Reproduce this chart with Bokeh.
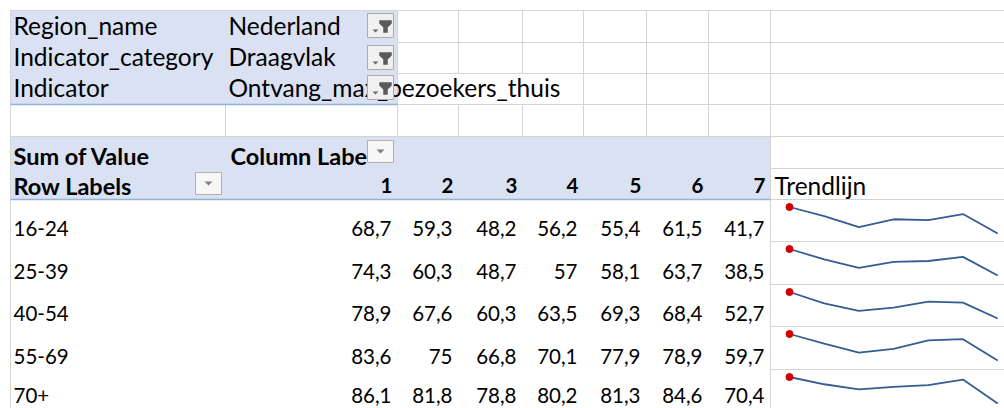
from bokeh.plotting import figure
from bokeh.models import Range1d
from bokeh.embed import file_html
from bokeh.resources import INLINE
from bokeh.core.properties import value

# ---------------- data ----------------
filter_fields = ["Region_name", "Indicator_category", "Indicator"]
filter_values = ["Nederland", "Draagvlak", "Ontvang_max_bezoekers_thuis"]
value_label = "Sum of Value"
column_label = "Column Labe"
row_label = "Row Labels"
columns = ["1", "2", "3", "4", "5", "6", "7"]
trend_label = "Trendlijn"
age_groups = ["16-24", "25-39", "40-54", "55-69", "70+"]
v_16_24 = [68.7, 59.3, 48.2, 56.2, 55.4, 61.5, 41.7]
v_25_39 = [74.3, 60.3, 48.7, 57.0, 58.1, 63.7, 38.5]
v_40_54 = [78.9, 67.6, 60.3, 63.5, 69.3, 68.4, 52.7]
v_55_69 = [83.6, 75.0, 66.8, 70.1, 77.9, 78.9, 59.7]
v_70_plus = [86.1, 81.8, 78.8, 80.2, 81.3, 84.6, 70.4]
series = [v_16_24, v_25_39, v_40_54, v_55_69, v_70_plus]

# ---------------- layout (sheet geometry, pixels) ----------------
W, H = 1004, 408
col_edges = [10, 225, 397, 458, 522, 583, 646, 708, 770, 1004]
row_edges = [10, 42, 73, 104, 136, 168, 199, 241, 284, 326, 369, 411]
TY = -8  # text vertical offset
FONT = "Lato"
FS_LABEL = "24.5px"
FS_BOLD = "23.5px"
FS_NUM = "20.5px"
SHADE = "#D9E1F2"
BLUE_LINE = "#95B3D7"
GRID = "#D4D4D4"


def fmt(v):
    return ("%g" % v).replace(".", ",")


p = figure(width=W, height=H, x_range=Range1d(0, W), y_range=Range1d(H, 0),
           output_backend="svg", toolbar_location=None, min_border=0)
p.axis.visible = False
p.grid.visible = False
p.outline_line_color = None
p.background_fill_color = "white"
p.border_fill_color = "white"

# shaded pivot areas
p.quad(left=[col_edges[0], col_edges[0]], right=[col_edges[2], col_edges[8]],
       top=[row_edges[0], row_edges[4]], bottom=[row_edges[3], row_edges[6]],
       fill_color=SHADE, line_color=None)

# gridlines
gx0, gy0, gx1, gy1 = [], [], [], []
def seg(x0, y0, x1, y1):
    gx0.append(x0); gy0.append(y0); gx1.append(x1); gy1.append(y1)

seg(col_edges[0], row_edges[0], col_edges[9], row_edges[0])
for r in (1, 2):
    seg(col_edges[2], row_edges[r], col_edges[9], row_edges[r])
seg(col_edges[2], row_edges[3], col_edges[9], row_edges[3])
seg(col_edges[0], row_edges[4], col_edges[9], row_edges[4])
for r in range(5, 11):
    seg(col_edges[8], row_edges[r], col_edges[9], row_edges[r])
seg(col_edges[0], row_edges[0], col_edges[0], H)
seg(col_edges[1], row_edges[3], col_edges[1], row_edges[4])
seg(col_edges[2], row_edges[0], col_edges[2], row_edges[4])
for c in (3, 4):
    seg(col_edges[c], row_edges[0], col_edges[c], row_edges[2])
    seg(col_edges[c], row_edges[3], col_edges[c], row_edges[4])
for c in (5, 6, 7):
    seg(col_edges[c], row_edges[0], col_edges[c], row_edges[4])
seg(col_edges[8], row_edges[0], col_edges[8], H)
p.segment(x0=gx0, y0=gy0, x1=gx1, y1=gy1, line_color=GRID, line_width=1)

# blue header borders
p.segment(x0=[col_edges[0], col_edges[0]], y0=[row_edges[3], row_edges[6]],
          x1=[col_edges[2], col_edges[8]], y1=[row_edges[3], row_edges[6]],
          line_color=BLUE_LINE, line_width=1.3)

base = dict(text_font=value(FONT), text_baseline="alphabetic", text_color="#000000")

# report filter block
fb = [row_edges[i + 1] - 9 + TY for i in range(3)]
p.text(x=[col_edges[0] + 3] * 3, y=fb, text=filter_fields, text_align="left",
       text_font_size=value(FS_LABEL), **base)
p.text(x=[col_edges[1] + 3] * 3, y=fb, text=filter_values, text_align="left",
       text_font_size=value(FS_LABEL), **base)

# header rows
p.text(x=[col_edges[0] + 3, col_edges[1] + 5], y=[row_edges[5] - 5 + TY] * 2,
       text=[value_label, column_label], text_align="left", text_font_style="bold",
       text_font_size=value(FS_BOLD), **base)
p.text(x=[col_edges[0] + 3], y=[row_edges[6] - 6 + TY], text=[row_label], text_align="left",
       text_font_style="bold", text_font_size=value(FS_BOLD), **base)
p.text(x=[col_edges[i + 2] - 5 for i in range(7)], y=[row_edges[6] - 6 + TY] * 7, text=columns,
       text_align="right", text_font_style="bold", text_font_size=value(FS_NUM), **base)
p.text(x=[col_edges[8] + 4], y=[row_edges[6] - 6 + TY], text=[trend_label], text_align="left",
       text_font_size=value(FS_LABEL), **base)

# body (last row kept inside the window)
body_base = [min(row_edges[7 + i] - 5 + TY, H - 13) for i in range(5)]
p.text(x=[col_edges[0] + 3] * 5, y=body_base, text=age_groups, text_align="left",
       text_font_size=value(FS_NUM), **base)
bx, by, bt = [], [], []
for i, vals in enumerate(series):
    for j, v in enumerate(vals):
        bx.append(col_edges[j + 2] - 6)
        by.append(body_base[i])
        bt.append(fmt(v))
p.text(x=bx, y=by, text=bt, text_align="right", text_font_size=value(FS_NUM), **base)

# sparklines
sx0, sstep = col_edges[8] + 19, 34.7
for i, vals in enumerate(series):
    top = row_edges[6 + i] + 7.5
    h = 26.5
    vmax, vmin = max(vals), min(vals)
    xs = [sx0 + j * sstep for j in range(len(vals))]
    ys = [top + (vmax - v) / (vmax - vmin) * h for v in vals]
    p.line(xs, ys, line_color="#355D92", line_width=1.8)
    k = vals.index(vmax)
    p.scatter([xs[k]], [ys[k]], size=7, fill_color="#D00000", line_color="#D00000")

# filter buttons (funnel)
BX = 367
btn_tops = [13, 45, 75]
p.quad(left=[BX] * 3, right=[BX + 26] * 3, top=btn_tops, bottom=[t + 24 for t in btn_tops],
       fill_color="#F0F0F0", line_color="#ABABAB", line_width=1)
fx, fy, tx, ty = [], [], [], []
funnel = [(12, 7), (24, 7), (24, 10), (20, 14), (20, 19), (16, 19), (16, 14), (12, 10)]
tri = [(5, 16), (11, 16), (8, 19)]
for t in btn_tops:
    fx.append([BX + a for a, b in funnel]); fy.append([t + b for a, b in funnel])
    tx.append([BX + a for a, b in tri]); ty.append([t + b for a, b in tri])
p.patches(fx, fy, fill_color="#5A5A5A", line_color="#5A5A5A", line_width=0.5)
p.patches(tx, ty, fill_color="#6A6A6A", line_color=None)

# dropdown buttons
dd = [(367, 140), (195, 172)]
p.quad(left=[a for a, b in dd], right=[a + 26 for a, b in dd], top=[b for a, b in dd],
       bottom=[b + 22 for a, b in dd], fill_color="#F7F7F7", line_color="#B0B0B0", line_width=1)
p.patches([[a + 9, a + 17, a + 13] for a, b in dd], [[b + 9, b + 9, b + 13] for a, b in dd],
          fill_color="#7F7F7F", line_color=None)

open("out.html", "w").write(file_html(p, INLINE))
